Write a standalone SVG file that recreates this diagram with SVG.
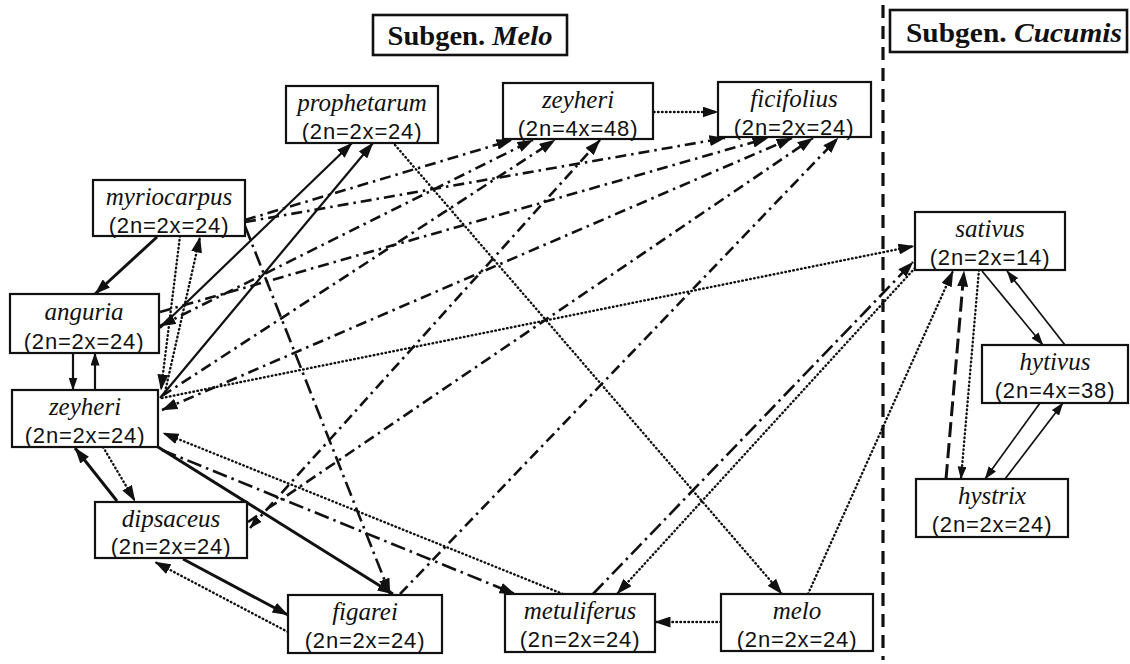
<svg xmlns="http://www.w3.org/2000/svg" width="1130" height="664" viewBox="0 0 1130 664">
<style>
.box{fill:#fff;stroke:#111;stroke-width:2.2}
.tbox{fill:#fff;stroke:#111;stroke-width:2.6}
.nm{font-family:"Liberation Serif",serif;font-style:italic;font-size:25px;text-anchor:middle;fill:#111}
.cn{font-family:"Liberation Sans",sans-serif;font-size:22px;letter-spacing:0.8px;text-anchor:middle;fill:#111}
.ttl{font-family:"Liberation Serif",serif;font-size:27px;text-anchor:middle;fill:#111}
.c{fill:none;stroke:#111}
.thick{stroke-width:3}
.med{stroke-width:2.2}
.thin{stroke-width:1.7}
.dot{stroke-width:2.4;stroke-dasharray:0.6 3.4;stroke-linecap:round}
.dd{stroke-width:2.6;stroke-dasharray:11 5 2.5 5}
.ddl{stroke-width:2.6;stroke-dasharray:15 5 2.5 5}
.ld{stroke-width:3;stroke-dasharray:15 6}
.sep{fill:none;stroke:#111;stroke-width:3.2;stroke-dasharray:13 8}
</style>
<defs>
<marker id="ah" viewBox="0 0 16 11" refX="15.5" refY="5.5" markerWidth="16" markerHeight="11" markerUnits="userSpaceOnUse" orient="auto-start-reverse"><path d="M0,0 L16,5.5 L0,11 z" fill="#111"/></marker>
<marker id="as" viewBox="0 0 13 9" refX="12.5" refY="4.5" markerWidth="13" markerHeight="9" markerUnits="userSpaceOnUse" orient="auto-start-reverse"><path d="M0,0 L13,4.5 L0,9 z" fill="#111"/></marker>
</defs>

<line class="sep" x1="883" y1="5" x2="883" y2="660"/>

<g id="connectors">
<!-- solid thick -->
<line class="c thick" x1="157" y1="237" x2="95" y2="294" marker-end="url(#ah)"/>
<line class="c thick" x1="117" y1="501" x2="75" y2="448" marker-end="url(#ah)"/>
<line class="c thick" x1="183" y1="559" x2="288" y2="615" marker-end="url(#ah)"/>
<line class="c thick" x1="158" y1="447" x2="393" y2="594" marker-end="url(#ah)"/>
<!-- solid medium -->
<line class="c med" x1="73" y1="353" x2="73" y2="390" marker-end="url(#as)"/>
<line class="c med" x1="95" y1="390" x2="95" y2="353" marker-end="url(#as)"/>
<line class="c med" x1="160" y1="328" x2="352" y2="143" marker-end="url(#ah)"/>
<line class="c med" x1="160" y1="398" x2="373" y2="143" marker-end="url(#ah)"/>
<!-- solid thin -->
<line class="c thin" x1="982" y1="271" x2="1043" y2="345" marker-end="url(#as)"/>
<line class="c thin" x1="1065" y1="345" x2="1007" y2="271" marker-end="url(#as)"/>
<line class="c thin" x1="1040" y1="403" x2="985" y2="479" marker-end="url(#as)"/>
<line class="c thin" x1="1005" y1="479" x2="1063" y2="403" marker-end="url(#as)"/>
<!-- dotted -->
<line class="c dot" x1="654" y1="112" x2="718" y2="112" marker-end="url(#ah)"/>
<line class="c dot" x1="721" y1="622" x2="655" y2="622" marker-end="url(#ah)"/>
<line class="c dot" x1="395" y1="145" x2="782" y2="594" marker-end="url(#ah)"/>
<line class="c dot" x1="808" y1="594" x2="953" y2="271" marker-end="url(#ah)"/>
<line class="c dot" x1="979" y1="270" x2="961" y2="479" marker-end="url(#as)"/>
<line class="c dot" x1="180" y1="236" x2="161" y2="390" marker-end="url(#ah)"/>
<line class="c dot" x1="165" y1="392" x2="200" y2="237" marker-end="url(#ah)"/>
<line class="c dot" x1="162" y1="398" x2="914" y2="246" marker-end="url(#ah)"/>
<line class="c dot" x1="563" y1="594" x2="163" y2="433" marker-end="url(#ah)"/>
<line class="c dot" x1="915" y1="268" x2="617" y2="594" marker-end="url(#ah)"/>
<line class="c dot" x1="103" y1="447" x2="135" y2="501" marker-end="url(#ah)"/>
<line class="c dot" x1="288" y1="632" x2="155" y2="562" marker-end="url(#ah)"/>
<!-- dash-dot -->
<line class="c dd" x1="245" y1="220" x2="512" y2="140" marker-end="url(#ah)"/>
<line class="c dd" x1="245" y1="222" x2="725" y2="138" marker-end="url(#ah)"/>
<line class="c dd" x1="160" y1="326" x2="533" y2="140" marker-start="url(#ah)" marker-end="url(#ah)"/>
<line class="c dd" x1="160" y1="312" x2="768" y2="138" marker-end="url(#ah)"/>
<line class="c dd" x1="162" y1="396" x2="555" y2="140" marker-end="url(#ah)"/>
<line class="c dd" x1="162" y1="410" x2="792" y2="138" marker-start="url(#ah)" marker-end="url(#ah)"/>
<line class="c dd" x1="250" y1="528" x2="600" y2="140" marker-start="url(#as)" marker-end="url(#ah)"/>
<line class="c dd" x1="248" y1="522" x2="813" y2="138" marker-end="url(#ah)"/>
<line class="c dd" x1="400" y1="594" x2="838" y2="138" marker-end="url(#ah)"/>
<line class="c ddl" x1="245" y1="226" x2="390" y2="594" marker-end="url(#ah)"/>
<line class="c ddl" x1="162" y1="450" x2="515" y2="594" marker-end="url(#ah)"/>
<line class="c ddl" x1="593" y1="594" x2="913" y2="262" marker-end="url(#ah)"/>
<!-- long dash -->
<line class="c ld" x1="946" y1="479" x2="964" y2="271" marker-end="url(#ah)"/>
</g>

<g id="title-melo">
<rect class="tbox" x="373" y="15" width="194" height="40"/>
<text class="ttl" x="470" y="45" textLength="165" lengthAdjust="spacingAndGlyphs"><tspan font-weight="bold">Subgen. </tspan><tspan font-style="italic" font-weight="bold">Melo</tspan></text>
</g>
<g id="title-cucumis">
<rect class="tbox" x="890" y="10" width="237" height="42"/>
<text class="ttl" x="1014" y="42" textLength="216" lengthAdjust="spacingAndGlyphs"><tspan font-weight="bold">Subgen. </tspan><tspan font-style="italic" font-weight="bold">Cucumis</tspan></text>
</g>

<g id="prophetarum">
<rect class="box" x="286" y="86" width="152" height="57"/>
<text class="nm" x="362" y="111">prophetarum</text>
<text class="cn" x="362" y="139">(2n=2x=24)</text>
</g>
<g id="zeyheri48">
<rect class="box" x="503" y="83" width="150" height="56"/>
<text class="nm" x="578" y="108">zeyheri</text>
<text class="cn" x="578" y="136">(2n=4x=48)</text>
</g>
<g id="ficifolius">
<rect class="box" x="718" y="82" width="153" height="55"/>
<text class="nm" x="794" y="107">ficifolius</text>
<text class="cn" x="794" y="135">(2n=2x=24)</text>
</g>
<g id="myriocarpus">
<rect class="box" x="93" y="180" width="152" height="56"/>
<text class="nm" x="169" y="205">myriocarpus</text>
<text class="cn" x="169" y="233">(2n=2x=24)</text>
</g>
<g id="anguria">
<rect class="box" x="10" y="294" width="149" height="59"/>
<text class="nm" x="84" y="320">anguria</text>
<text class="cn" x="84" y="349">(2n=2x=24)</text>
</g>
<g id="zeyheri24">
<rect class="box" x="12" y="390" width="146" height="57"/>
<text class="nm" x="85" y="415">zeyheri</text>
<text class="cn" x="85" y="443">(2n=2x=24)</text>
</g>
<g id="dipsaceus">
<rect class="box" x="95" y="502" width="152" height="56"/>
<text class="nm" x="171" y="527">dipsaceus</text>
<text class="cn" x="171" y="554">(2n=2x=24)</text>
</g>
<g id="figarei">
<rect class="box" x="288" y="595" width="154" height="58"/>
<text class="nm" x="365" y="620">figarei</text>
<text class="cn" x="365" y="648">(2n=2x=24)</text>
</g>
<g id="metuliferus">
<rect class="box" x="505" y="594" width="150" height="58"/>
<text class="nm" x="580" y="619">metuliferus</text>
<text class="cn" x="580" y="647">(2n=2x=24)</text>
</g>
<g id="melo">
<rect class="box" x="721" y="594" width="152" height="57"/>
<text class="nm" x="797" y="619">melo</text>
<text class="cn" x="797" y="647">(2n=2x=24)</text>
</g>
<g id="sativus">
<rect class="box" x="915" y="212" width="150" height="58"/>
<text class="nm" x="990" y="237">sativus</text>
<text class="cn" x="990" y="265">(2n=2x=14)</text>
</g>
<g id="hytivus">
<rect class="box" x="982" y="345" width="146" height="58"/>
<text class="nm" x="1055" y="370">hytivus</text>
<text class="cn" x="1055" y="398">(2n=4x=38)</text>
</g>
<g id="hystrix">
<rect class="box" x="916" y="479" width="152" height="58"/>
<text class="nm" x="992" y="504">hystrix</text>
<text class="cn" x="992" y="532">(2n=2x=24)</text>
</g>
</svg>
